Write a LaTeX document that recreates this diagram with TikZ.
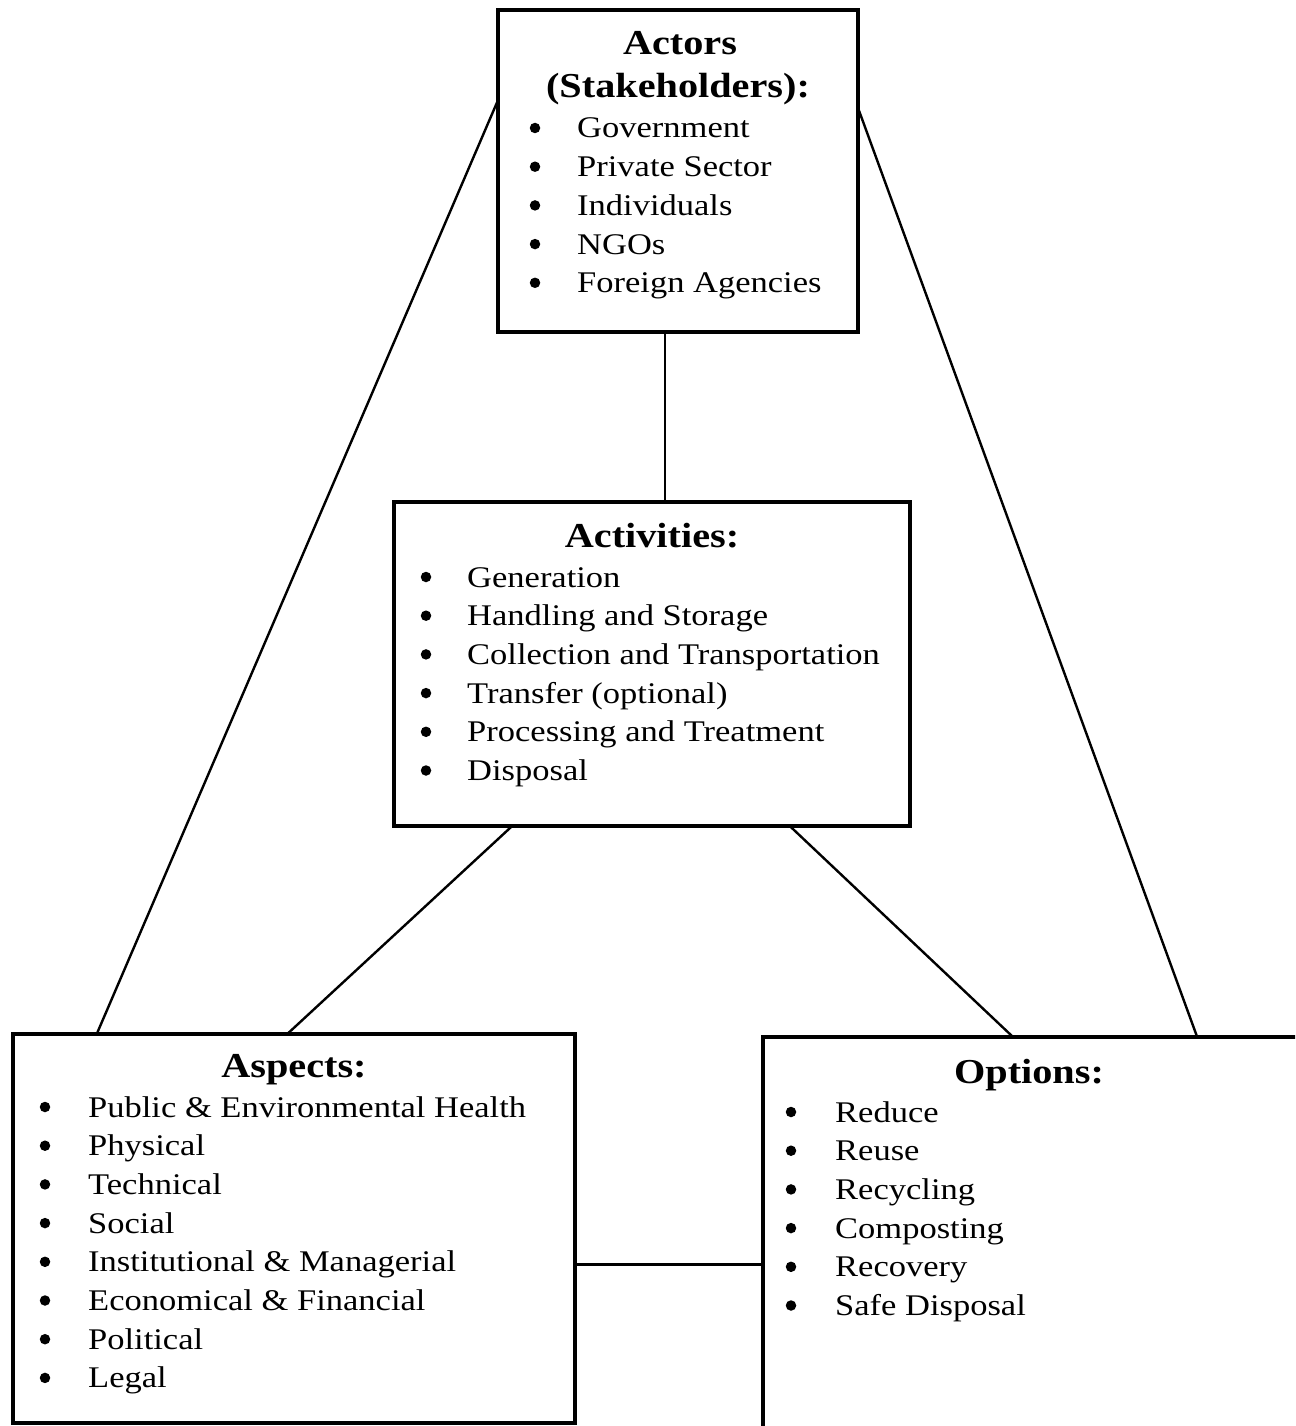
\documentclass[tikz,border=0pt]{standalone}
\usepackage{fontspec}
\setmainfont{Liberation Serif}[FakeStretch=1.15]
\usetikzlibrary{calc}

% one bulleted list: name prefix, bullet x, text x, first baseline, items
\newcommand\bulletlist[5]{%
  \foreach \t [count=\i] in {#5} {%
    \pgfmathsetmacro\yy{#4+(\i-1)*38.7}%
    \node[dot] (#1-b\i) at (#2,\yy-10) {};
    \node[item] (#1-\i) at (#3,\yy) {\t};
  }%
}

\begin{document}
\begin{tikzpicture}[x=1pt,y=-1pt,
  box/.style={draw, rectangle, line width=4pt, inner sep=0pt, outer sep=0pt, anchor=north west},
  link/.style={line width=2.4pt, line cap=round},
  head/.style={font=\fontsize{35}{40}\selectfont\bfseries, anchor=base, inner sep=0pt},
  item/.style={font=\fontsize{30}{36}\selectfont, anchor=base west, inner sep=0pt},
  dot/.style={circle, fill, inner sep=0pt, minimum size=10.5pt}]

\useasboundingbox (0,0) rectangle (1295,1426);
\clip (0,0) rectangle (1295,1426);
\fill[white] (0,0) rectangle (1295,1426);

% boxes
\node[box, minimum width=360pt, minimum height=322pt] (actors) at (498,10) {};
\node[box, minimum width=516pt, minimum height=324pt] (activities) at (394,502) {};
\node[box, minimum width=562pt, minimum height=389pt] (aspects) at (13,1034) {};
\node[box, minimum width=540pt, minimum height=420pt] (options) at (763,1037) {};

% connectors
\draw[link] ($(actors.south west)!0.464!(actors.south east)$) coordinate (ac1)
  -- (ac1 |- activities.north);
\draw[link] ($(actors.north west)!0.28!(actors.south west)$)
  -- ($(aspects.north west)!0.149!(aspects.north east)$);
\draw[link] ($(actors.north east)!0.304!(actors.south east)$)
  -- ($(options.north west)!0.804!(options.north east)$);
\draw[link] ($(activities.south west)!0.229!(activities.south east)$)
  -- ($(aspects.north west)!0.488!(aspects.north east)$);
\draw[link] ($(activities.south west)!0.767!(activities.south east)$)
  -- ($(options.north west)!0.463!(options.north east)$);
\draw[link] ($(aspects.north east)!0.593!(aspects.south east)$) coordinate (as1)
  -- (as1 -| options.west);

% actors
\node[head] (actors-h1) at (680,55) {Actors};
\node[head] (actors-h2) at (678,98) {(Stakeholders):};
\bulletlist{act}{535}{577}{138}{Government,Private Sector,Individuals,NGOs,Foreign Agencies}

% activities
\node[head] (activities-h) at (652,547) {Activities:};
\bulletlist{acv}{426}{467}{587}{Generation,Handling and Storage,Collection and Transportation,Transfer (optional),Processing and Treatment,Disposal}

% aspects
\node[head] (aspects-h) at (294,1077) {Aspects:};
\bulletlist{asp}{45}{88}{1117}{Public \& Environmental Health,Physical,Technical,Social,Institutional \& Managerial,Economical \& Financial,Political,Legal}

% options
\node[head] (options-h) at (1029,1083) {Options:};
\bulletlist{opt}{791}{835}{1122}{Reduce,Reuse,Recycling,Composting,Recovery,Safe Disposal}

\end{tikzpicture}
\end{document}
